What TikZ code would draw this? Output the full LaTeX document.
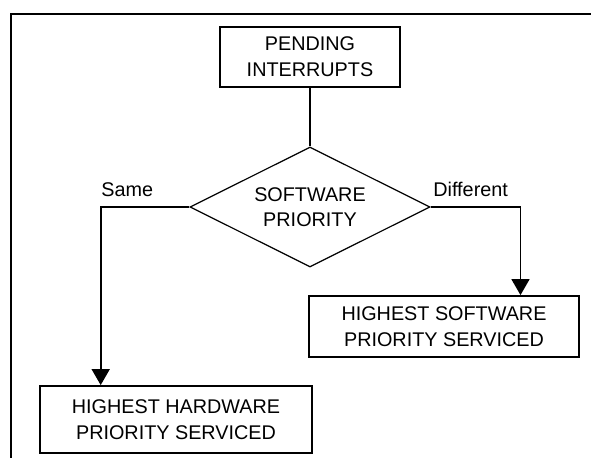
\documentclass[tikz,border=0pt]{standalone}
\usepackage{fontspec}
\setmainfont{Liberation Sans}
\usetikzlibrary{shapes.geometric,arrows.meta}

\begin{document}
\begin{tikzpicture}[x=0.5pt, y=-0.5pt,
    box/.style={draw, line width=0.9pt, align=center, inner sep=0pt},
    decision/.style={draw, diamond, aspect=2, line width=0.6pt, align=center, inner sep=0pt, minimum width=120pt, minimum height=60pt},
    lbl/.style={inner sep=0pt, anchor=base west},
    flow/.style={line width=0.85pt, -{Triangle[length=8pt, width=9pt]}}]
\useasboundingbox (0,0) rectangle (591,458);
\fontsize{9.9}{12.8}\selectfont

% frame
\draw[line width=1.15pt] (11,458) -- (11,14) -- (591,14);

\node[box, minimum width=90pt, minimum height=30pt] (pending) at (310,56.7) {PENDING\\INTERRUPTS};
\node[decision] (prio) at (310,207) {SOFTWARE\\PRIORITY};
\node[box, minimum width=135pt, minimum height=30.5pt] (swserv) at (444,326.5) {HIGHEST SOFTWARE\\PRIORITY SERVICED};
\node[box, minimum width=136pt, minimum height=33.5pt] (hwserv) at (176,419.5) {HIGHEST HARDWARE\\PRIORITY SERVICED};

\node[lbl] (same) at (101,197) {Same};
\node[lbl] (diff) at (433,197) {Different};

\coordinate (samecorner) at (100.7,207);
\coordinate (diffcorner) at (520.5,207);

\draw[line width=0.85pt] (pending) -- (prio);
\draw[flow] (prio.west) -- (samecorner) -- (samecorner |- hwserv.north);
\draw[flow] (prio.east) -- (diffcorner) -- (diffcorner |- swserv.north);

\end{tikzpicture}
\end{document}
